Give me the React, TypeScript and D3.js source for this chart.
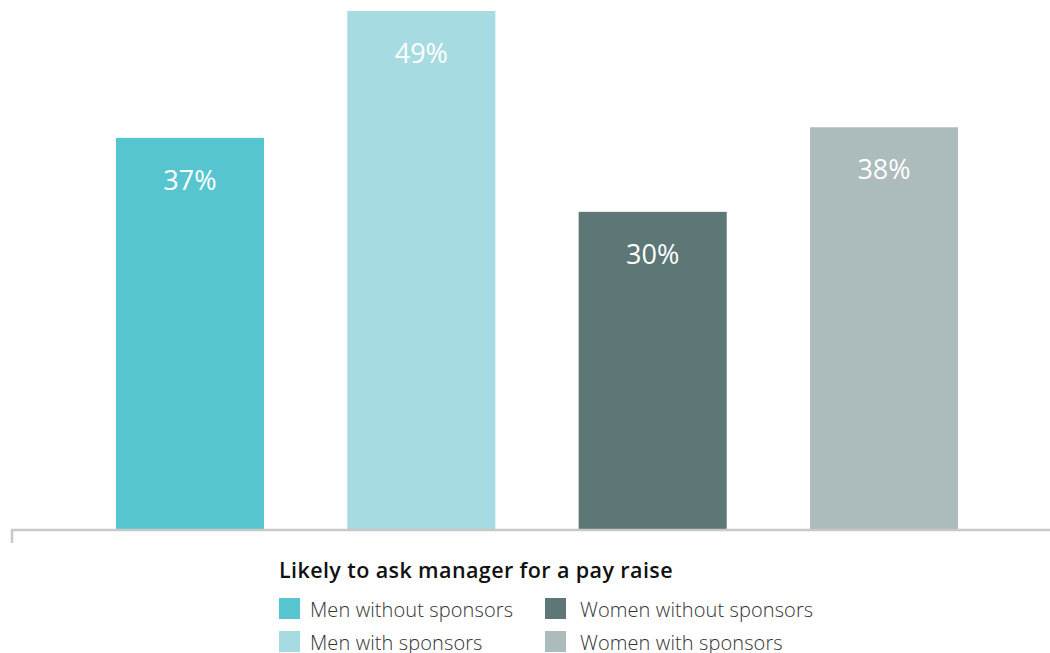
import React from "react";
import * as d3 from "d3";

const categories = ["Men without sponsors", "Men with sponsors", "Women without sponsors", "Women with sponsors"];
const values = [37, 49, 30, 38];
const colors = ["#57c5cf", "#a6dce1", "#5c7775", "#acbbbb"];
const chartTitle = "Likely to ask manager for a pay raise";

export default function App() {
  const W = 1050, H = 653;
  const x = d3.scaleBand<string>().domain(categories).range([32.67, 1041.33]).paddingInner(0.36).paddingOuter(0.36);
  const y = d3.scaleLinear().domain([0, 49]).range([529, 11]);
  const font = "'Open Sans', sans-serif";
  return (
    <svg width={W} height={H} style={{ position: "absolute", left: 0, top: 0, background: "#fff" }}>
      {categories.map((c, i) => (
        <g key={c}>
          <rect x={x(c)} y={y(values[i])} width={x.bandwidth()} height={y(0) - y(values[i])} fill={colors[i]} />
          <text x={(x(c) as number) + x.bandwidth() / 2} y={y(values[i]) + 52} textAnchor="middle" fill="#fff" fontSize={27} fontWeight={400} fontFamily={font}>
            {values[i]}%
          </text>
        </g>
      ))}
      <path d={`M12,543 V530 H1050`} fill="none" stroke="#c8c8c8" strokeWidth={2.5} />
      <text x={279} y={578} fontSize={21.5} fontWeight={600} letterSpacing={0.4} fill="#111" fontFamily={font}>{chartTitle}</text>
      {categories.map((c, ci) => {
        const col = Math.floor(ci / 2), row = ci % 2;
        const lx = col === 0 ? 279 : 545;
        const ly = 598 + row * 33;
        return (
          <g key={c}>
            <rect x={lx} y={ly} width={21} height={21} fill={colors[ci]} />
            <text x={lx + 31 + (col === 1 ? 4 : 0)} y={ly + 19} fontSize={20} fontWeight={300} letterSpacing={0.1} fill="#333" fontFamily={font}>{c}</text>
          </g>
        );
      })}
    </svg>
  );
}
